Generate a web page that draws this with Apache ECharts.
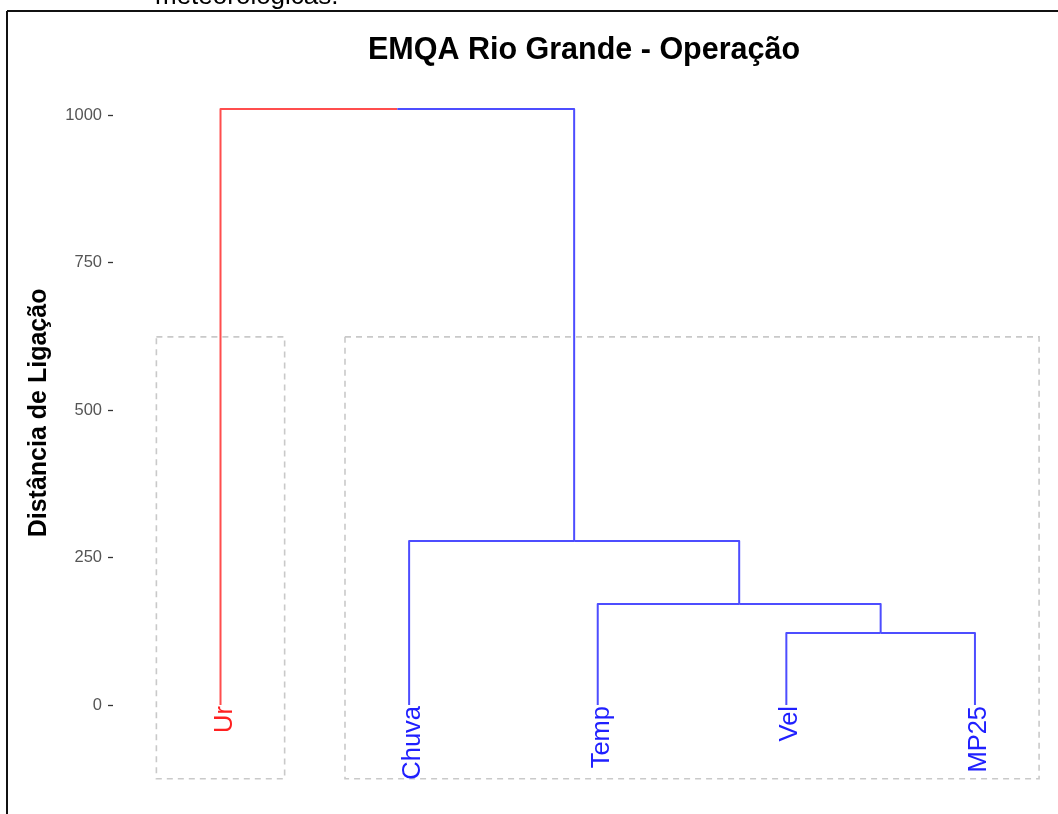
<!DOCTYPE html>
<html>
<head>
<meta charset="utf-8">
<title>EMQA Rio Grande - Operação</title>
<script src="https://cdn.jsdelivr.net/npm/echarts@6/dist/echarts.min.js"></script>
<style>
  html, body { margin: 0; padding: 0; background: #fff; }
  #chart { width: 1058px; height: 814px; }
</style>
</head>
<body>
<div id="chart"></div>
<script>
// Leaves in dendrogram order and the hclust-style merge table
const leaves = ['Ur', 'Chuva', 'Temp', 'Vel', 'MP25'];
// negative = leaf index (1-based), positive = earlier merge step (1-based)
const merges = [[-4, -5], [-3, 1], [-2, 2], [-1, 3]];
const heights = [122, 171, 278, 1010];
// cluster id of each leaf (k = 2)
const clusterOf = [0, 1, 1, 1, 1];
const yTicks = [0, 250, 500, 750, 1000];

const branchColors = ['#ff4d4d', '#4d4dff'];
const labelColors = ['#ff2020', '#2020ff'];
const FONT = "'Liberation Sans', Arial, sans-serif";

// ---- dendrogram layout: leaf x = position in order, node x = mean of children
const leafNodes = leaves.map((name, i) => ({ x: i + 1, h: 0, c: clusterOf[i] }));
const mergeNodes = [];
const arms = []; // each arm: [x1, y1, x2, y2, x3, y3, colorIdx]
function nodeOf(ref) { return ref < 0 ? leafNodes[-ref - 1] : mergeNodes[ref - 1]; }
merges.forEach(([a, b], k) => {
  const A = nodeOf(a), B = nodeOf(b), H = heights[k];
  const x = (A.x + B.x) / 2;
  arms.push([A.x, A.h, A.x, H, x, H, A.c]);
  arms.push([x, H, B.x, H, B.x, B.h, B.c]);
  mergeNodes.push({ x: x, h: H, c: A.c === B.c ? A.c : -1 });
});

// ---- cluster boxes span from the first to the last leaf of each cluster
const boxes = [];
clusterOf.forEach((c, i) => {
  if (!boxes[c]) boxes[c] = [i + 1, i + 1, c];
  boxes[c][1] = i + 1;
});
const BOX_PAD = 0.34, BOX_LOW = -125, BOX_HIGH = 624;

const labelData = leaves.map((name, i) => [i + 1, 0, i]);

const chart = echarts.init(document.getElementById('chart'), null, { renderer: 'canvas' });

chart.setOption({
  animation: false,
  backgroundColor: '#ffffff',
  title: {
    text: 'EMQA Rio Grande - Operação',
    left: 579,
    top: 30,
    textAlign: 'center',
    textStyle: { fontFamily: FONT, fontSize: 30.5, fontWeight: 'bold', color: '#000' }
  },
  grid: { left: 113, right: 7.6, top: 44.2, bottom: 32.3, containLabel: false },
  xAxis: {
    type: 'value',
    min: 0.43,
    max: 5.4,
    show: false
  },
  yAxis: {
    type: 'value',
    min: -130,
    max: 1120,
    name: 'Distância de Ligação',
    nameLocation: 'middle',
    nameRotate: 90,
    nameGap: 61,
    nameTextStyle: { fontFamily: FONT, fontSize: 25, fontWeight: 'bold', color: '#000' },
    axisLine: { show: false },
    splitLine: { show: false },
    axisTick: { show: true, length: 5, customValues: yTicks, lineStyle: { color: '#333', width: 1.3 } },
    axisLabel: {
      customValues: yTicks,
      margin: 11,
      fontFamily: FONT,
      fontSize: 16.5,
      color: '#555',
      formatter: function (v) { return String(v); }
    }
  },
  graphic: [
    {
      type: 'text',
      x: 155, y: 10,
      style: { text: 'meteorológicas.', fontFamily: FONT, fontSize: 26, fill: '#000', verticalAlign: 'bottom' },
      z: 1
    },
    { type: 'line', shape: { x1: 7, y1: 11, x2: 1058, y2: 11 }, style: { stroke: '#111', lineWidth: 2 }, z: 2 },
    { type: 'line', shape: { x1: 7, y1: 11, x2: 7, y2: 814 }, style: { stroke: '#111', lineWidth: 2 }, z: 2 }
  ],
  series: [
    {
      // dashed cluster boxes
      type: 'custom',
      coordinateSystem: 'cartesian2d',
      data: boxes,
      z: 1,
      renderItem: function (params, api) {
        const x0 = api.value(0) - BOX_PAD, x1 = api.value(1) + BOX_PAD;
        const p0 = api.coord([x0, BOX_HIGH]);
        const p1 = api.coord([x1, BOX_LOW]);
        return {
          type: 'rect',
          shape: { x: p0[0], y: p0[1], width: p1[0] - p0[0], height: p1[1] - p0[1] },
          style: { fill: 'none', stroke: '#c9c9c9', lineWidth: 1.6, lineDash: [6, 5] }
        };
      }
    },
    {
      // dendrogram branches
      type: 'custom',
      coordinateSystem: 'cartesian2d',
      data: arms,
      z: 3,
      renderItem: function (params, api) {
        const pts = [
          api.coord([api.value(0), api.value(1)]),
          api.coord([api.value(2), api.value(3)]),
          api.coord([api.value(4), api.value(5)])
        ];
        const c = api.value(6);
        return {
          type: 'polyline',
          shape: { points: pts },
          style: { fill: 'none', stroke: c >= 0 ? branchColors[c] : '#888', lineWidth: 2, lineJoin: 'round' }
        };
      }
    },
    {
      // leaf labels, reading bottom to top, ending just under each leaf
      type: 'custom',
      coordinateSystem: 'cartesian2d',
      data: labelData,
      z: 4,
      renderItem: function (params, api) {
        const i = api.value(2);
        const p = api.coord([api.value(0), api.value(1)]);
        return {
          type: 'text',
          x: p[0] + 4,
          y: p[1] + 1,
          rotation: Math.PI / 2,
          style: {
            text: leaves[i],
            fill: labelColors[clusterOf[i]],
            fontFamily: FONT,
            fontSize: 25.5,
            align: 'right',
            verticalAlign: 'middle'
          }
        };
      }
    }
  ]
});
</script>
</body>
</html>
